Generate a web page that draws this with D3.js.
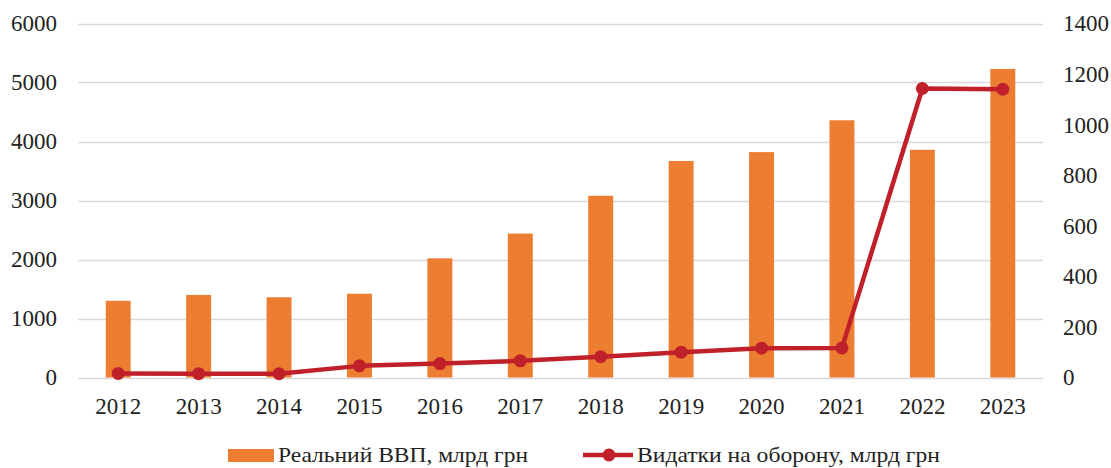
<!DOCTYPE html>
<html>
<head>
<meta charset="utf-8">
<script src="https://cdn.jsdelivr.net/npm/d3@7"></script>
<style>
  body { margin: 0; background: #fff; }
  svg { display: block; font-family: "Liberation Serif", "Times New Roman", serif; }
</style>
</head>
<body>
<svg id="chart" width="1111" height="468"></svg>
<script>
const years = ["2012", "2013", "2014", "2015", "2016", "2017", "2018", "2019", "2020", "2021", "2022", "2023"];
const gdp = [1300, 1400, 1360, 1420, 2020, 2440, 3080, 3670, 3820, 4360, 3860, 5230];
const defense = [16, 15, 15, 46, 55, 66, 82, 100, 116, 117, 1143, 1140];
const leftTicks = [0, 1000, 2000, 3000, 4000, 5000, 6000];
const rightTicks = [0, 200, 400, 600, 800, 1000, 1200, 1400];
const legendLabels = ["Реальний ВВП, млрд грн", "Видатки на оборону, млрд грн"];

const barColor = "#ED7D31";
const lineColor = "#C0202A";
const textColor = "#222";
const fontSize = 23;

const margin = { top: 24, right: 68, bottom: 91, left: 78 };
const width = 1111;
const height = 468;

const svg = d3.select("#chart");

const x = d3
  .scaleBand()
  .domain(years)
  .range([margin.left, width - margin.right])
  .paddingInner(0.69)
  .paddingOuter(0.345);

const yLeft = d3
  .scaleLinear()
  .domain([0, 6000])
  .range([height - margin.bottom + 0.5, margin.top - 0.5]);

const yRight = d3
  .scaleLinear()
  .domain([0, 1400])
  .range([height - margin.bottom + 0.5, margin.top - 0.5]);

const styleTicks = (g) => {
  g.select(".domain").remove();
  g.selectAll("text")
    .attr("font-family", "Liberation Serif, serif")
    .attr("font-size", fontSize)
    .attr("fill", textColor);
};

// Gridlines
svg
  .append("g")
  .selectAll("line")
  .data(leftTicks)
  .join("line")
  .attr("x1", margin.left)
  .attr("x2", width - margin.right)
  .attr("y1", (d) => Math.round(yLeft(d)) + 0.5)
  .attr("y2", (d) => Math.round(yLeft(d)) + 0.5)
  .attr("stroke", "#d9d9d9")
  .attr("stroke-width", 1.3);

// Left axis
svg
  .append("g")
  .attr("transform", `translate(${margin.left - 21},0)`)
  .call(d3.axisLeft(yLeft).tickValues(leftTicks).tickFormat(d3.format("d")).tickSize(0).tickPadding(0))
  .call(styleTicks);

// Right axis
svg
  .append("g")
  .attr("transform", `translate(${width - margin.right + 20},0)`)
  .call(d3.axisRight(yRight).tickValues(rightTicks).tickFormat(d3.format("d")).tickSize(0).tickPadding(0))
  .call(styleTicks);

// Bars
svg
  .append("g")
  .selectAll("rect")
  .data(gdp)
  .join("rect")
  .attr("x", (d, i) => x(years[i]))
  .attr("width", x.bandwidth())
  .attr("y", (d) => yLeft(d))
  .attr("height", (d) => yLeft(0) - yLeft(d))
  .attr("fill", barColor);

// X axis labels
svg
  .append("g")
  .attr("transform", `translate(0,${height - margin.bottom + 21})`)
  .call(d3.axisBottom(x).tickSize(0).tickPadding(0))
  .call(styleTicks);

// Line
const cx = (i) => x(years[i]) + x.bandwidth() / 2;
const line = d3
  .line()
  .x((d, i) => cx(i))
  .y((d) => yRight(d));

svg
  .append("path")
  .datum(defense)
  .attr("d", line)
  .attr("fill", "none")
  .attr("stroke", lineColor)
  .attr("stroke-width", 4.5)
  .attr("stroke-linejoin", "round");

svg
  .append("g")
  .selectAll("circle")
  .data(defense)
  .join("circle")
  .attr("cx", (d, i) => cx(i))
  .attr("cy", (d) => yRight(d))
  .attr("r", 6.5)
  .attr("fill", lineColor);

// Legend
const legend = svg.append("g").attr("transform", "translate(0,455)");
legend
  .append("rect")
  .attr("x", 228)
  .attr("y", -6)
  .attr("width", 46)
  .attr("height", 13)
  .attr("fill", barColor);
legend
  .append("text")
  .attr("x", 278)
  .attr("y", 7)
  .attr("font-size", 22)
  .attr("fill", textColor)
  .attr("textLength", 250)
  .attr("lengthAdjust", "spacingAndGlyphs")
  .text(legendLabels[0]);

legend
  .append("line")
  .attr("x1", 583)
  .attr("x2", 633)
  .attr("y1", 0)
  .attr("y2", 0)
  .attr("stroke", lineColor)
  .attr("stroke-width", 4.5);
legend
  .append("circle")
  .attr("cx", 609)
  .attr("cy", 0)
  .attr("r", 6.5)
  .attr("fill", lineColor);
legend
  .append("text")
  .attr("x", 637)
  .attr("y", 7)
  .attr("font-size", 22)
  .attr("fill", textColor)
  .attr("textLength", 303)
  .attr("lengthAdjust", "spacingAndGlyphs")
  .text(legendLabels[1]);
</script>
</body>
</html>
